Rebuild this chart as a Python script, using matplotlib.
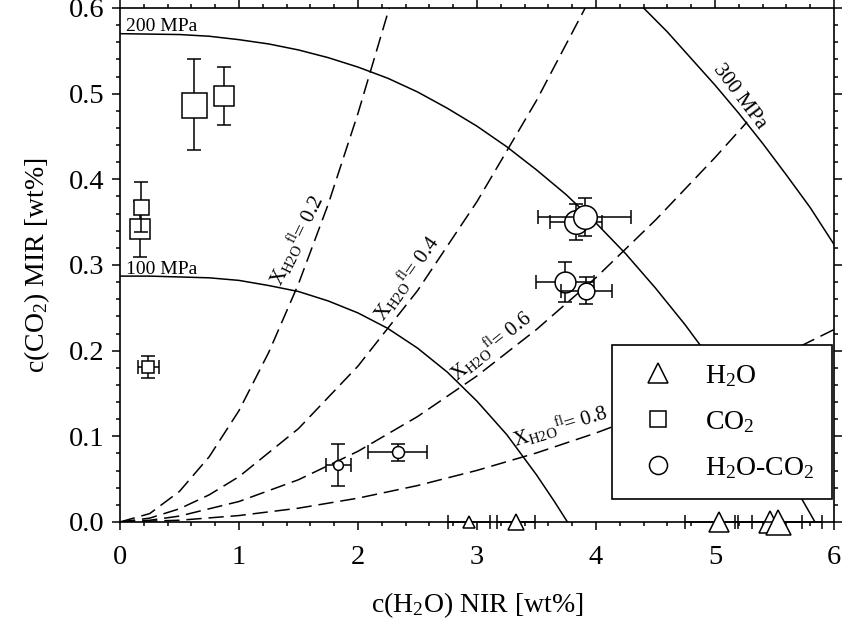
import matplotlib.pyplot as plt
from matplotlib.lines import Line2D
from matplotlib.ticker import MultipleLocator, FormatStrFormatter

plt.rcParams['font.family'] = ['Liberation Serif', 'DejaVu Serif']
plt.rcParams['mathtext.fontset'] = 'custom'
plt.rcParams['mathtext.rm'] = 'Liberation Serif'
plt.rcParams['mathtext.it'] = 'Liberation Serif:italic'

# isobars (saturation curves)
p100_x = [0, 0.25, 0.5, 0.75, 1.0, 1.25, 1.5, 1.75, 2.0, 2.25, 2.5, 2.75, 3.0, 3.25, 3.5, 3.65, 3.76]
p100_y = [0.287, 0.287, 0.286, 0.285, 0.282, 0.276, 0.269, 0.258, 0.244, 0.226, 0.203, 0.175, 0.141, 0.102, 0.055, 0.024, 0.0]
p200_x = [0, 0.5, 0.75, 1.0, 1.25, 1.5, 1.75, 2.0, 2.25, 2.5, 2.75, 3.0, 3.25, 3.5, 3.75, 4.0, 4.25, 4.5,
          4.75, 5.0, 5.25, 5.5, 5.7, 5.84]
p200_y = [0.570, 0.569, 0.567, 0.563, 0.558, 0.551, 0.542, 0.531, 0.518, 0.502, 0.483, 0.462, 0.438, 0.411,
          0.382, 0.349, 0.313, 0.273, 0.230, 0.183, 0.133, 0.079, 0.034, 0.0]
p300_x = [4.2, 4.4, 4.6, 4.8, 5.0, 5.2, 5.4, 5.6, 5.8, 6.0]
p300_y = [0.627, 0.600, 0.572, 0.541, 0.510, 0.477, 0.442, 0.405, 0.367, 0.324]

# lines of constant fluid composition
xfl02_x = [0, 0.25, 0.5, 0.75, 1.0, 1.25, 1.5, 1.75, 2.0, 2.25, 2.3]
xfl02_y = [0, 0.0098, 0.0357, 0.0762, 0.130, 0.198, 0.278, 0.371, 0.477, 0.594, 0.619]
xfl04_x = [0, 0.25, 0.5, 0.75, 1.0, 1.5, 2.0, 2.5, 3.0, 3.5, 4.0]
xfl04_y = [0, 0.0045, 0.0154, 0.0317, 0.0529, 0.109, 0.182, 0.270, 0.374, 0.492, 0.624]
xfl06_x = [0, 0.25, 0.5, 1.0, 1.5, 2.0, 2.5, 3.0, 3.5, 4.0, 4.5, 5.0, 5.27]
xfl06_y = [0, 0.0020, 0.0069, 0.0239, 0.0493, 0.0825, 0.123, 0.1705, 0.2247, 0.2853, 0.3524, 0.4254, 0.467]
xfl08_x = [0, 0.5, 1.0, 1.5, 2.0, 2.5, 3.0, 3.5, 4.0, 4.5, 5.0, 5.5, 6.0]
xfl08_y = [0, 0.0020, 0.0075, 0.0161, 0.0278, 0.0425, 0.0602, 0.0806, 0.1039, 0.130, 0.1588, 0.1903, 0.2246]

# H2O-bearing glasses
h2o_x = [2.93, 3.33, 5.03, 5.46, 5.53]
h2o_y = [0.0, 0.0, 0.0, 0.0, 0.0]
h2o_xerr = [0.176, 0.16, 0.28, 0.27, 0.365]
h2o_size = [8, 11.5, 14.4, 16, 18]

# CO2-bearing glasses
co2_x = [0.62, 0.87, 0.166, 0.18, 0.238]
co2_y = [0.487, 0.497, 0.342, 0.368, 0.181]
co2_xerr = [None, None, None, None, 0.09]
co2_yerr = [0.053, 0.034, 0.033, 0.029, 0.0126]
co2_size = [18, 15, 13.7, 10.8, 8.6]

# mixed H2O-CO2 glasses
mix_x = [3.83, 3.905, 3.74, 3.92, 1.835, 2.333]
mix_y = [0.350, 0.356, 0.280, 0.270, 0.0665, 0.0813]
mix_xerr = [0.22, 0.39, 0.245, 0.215, 0.106, 0.25]
mix_yerr = [0.021, 0.022, 0.023, 0.016, 0.0243, 0.0103]
mix_size = [17, 17, 15, 12, 7, 8.6]


def draw_points(ax, xs, ys, xerrs, yerrs, sizes, marker, z):
    for i in range(len(xs)):
        ax.errorbar(xs[i], ys[i], xerr=xerrs[i], yerr=yerrs[i], fmt='none', ecolor='black',
                    elinewidth=1.1, capsize=4.7, capthick=1.1, zorder=z + 2 * i, clip_on=False)
        ax.plot(xs[i], ys[i], marker=marker, markersize=sizes[i], markerfacecolor='white',
                markeredgecolor='black', markeredgewidth=1.1, linestyle='none',
                zorder=z + 2 * i + 1, clip_on=False)


fig = plt.figure(figsize=(8.42, 6.33), dpi=100)
ax = fig.add_axes([0.1425, 0.1754, 0.848, 0.812])

for xs, ys in [(p100_x, p100_y), (p200_x, p200_y), (p300_x, p300_y)]:
    ax.plot(xs, ys, color='black', linewidth=1.1, zorder=1)
for xs, ys in [(xfl02_x, xfl02_y), (xfl04_x, xfl04_y), (xfl06_x, xfl06_y), (xfl08_x, xfl08_y)]:
    ax.plot(xs, ys, color='black', linewidth=1.1, dashes=(10, 4.5), zorder=1)

ax.text(0.05, 0.5733, '200 MPa', fontsize=14, va='baseline')
ax.text(0.05, 0.289, '100 MPa', fontsize=14, va='baseline')
ax.text(5.21, 0.496, '300 MPa', fontsize=15, rotation=-53, ha='center', va='center')

xfl_labels = [(1.49, 0.329, 64, '0.2'), (2.41, 0.284, 55, '0.4'),
              (3.12, 0.205, 39, '0.6'), (3.70, 0.111, 17, '0.8')]
for lx, ly, rot, val in xfl_labels:
    ax.text(lx, ly, r'X$_{\mathrm{H2O}}$$^{\mathrm{fl}}$= ' + val, fontsize=15,
            rotation=rot, ha='center', va='center', rotation_mode='anchor')

draw_points(ax, h2o_x, h2o_y, h2o_xerr, [None] * len(h2o_x), h2o_size, '^', 10)
draw_points(ax, co2_x, co2_y, co2_xerr, co2_yerr, co2_size, 's', 30)
draw_points(ax, mix_x, mix_y, mix_xerr, mix_yerr, mix_size, 'o', 50)

ax.set_xlim(0, 6)
ax.set_ylim(0, 0.6)
ax.xaxis.set_major_locator(MultipleLocator(1))
ax.xaxis.set_minor_locator(MultipleLocator(0.2))
ax.yaxis.set_major_locator(MultipleLocator(0.1))
ax.yaxis.set_minor_locator(MultipleLocator(0.02))
ax.yaxis.set_major_formatter(FormatStrFormatter('%.1f'))
ax.tick_params(which='both', direction='out', top=True, right=True, width=1.1, labelsize=20.5)
ax.tick_params(which='major', length=5.5)
ax.tick_params(which='minor', length=3.2)
ax.tick_params(axis='x', pad=11)
ax.tick_params(axis='y', pad=6)
for sp in ax.spines.values():
    sp.set_linewidth(1.2)

ax.set_xlabel(r'c(H$_2$O) NIR [wt%]', fontsize=20, labelpad=15)
ax.set_ylabel(r'c(CO$_2$) MIR [wt%]', fontsize=20, labelpad=12)

handles = [
    Line2D([], [], marker='^', markersize=14, markerfacecolor='white', markeredgecolor='black',
           markeredgewidth=1.1, linestyle='none'),
    Line2D([], [], marker='s', markersize=11, markerfacecolor='white', markeredgecolor='black',
           markeredgewidth=1.1, linestyle='none'),
    Line2D([], [], marker='o', markersize=13, markerfacecolor='white', markeredgecolor='black',
           markeredgewidth=1.1, linestyle='none'),
]
labels = [r'H$_2$O', r'CO$_2$', r'H$_2$O-CO$_2$']
leg = ax.legend(handles, labels, loc='upper left', bbox_to_anchor=(0.689, 0.344), borderaxespad=0,
                fontsize=20, frameon=True, fancybox=False, framealpha=1, edgecolor='black',
                borderpad=0.65, handlelength=2.0, handletextpad=0.7, labelspacing=0.72)
leg.get_frame().set_linewidth(1.2)
leg.set_zorder(100)

fig.savefig('out.png', dpi=100)
